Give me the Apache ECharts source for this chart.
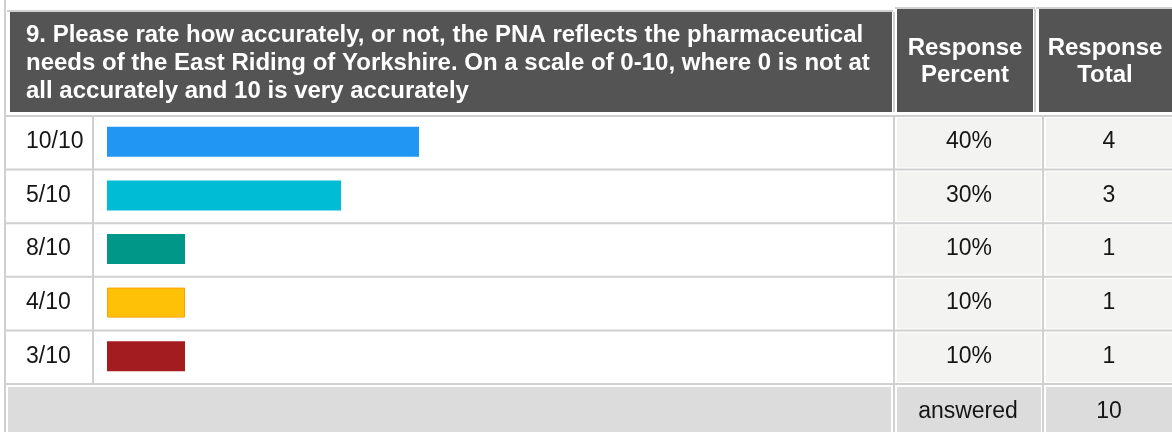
<!DOCTYPE html>
<html><head><meta charset="utf-8">
<script src="https://cdn.jsdelivr.net/npm/echarts@6/dist/echarts.min.js"></script>
<style>html,body{margin:0;padding:0;background:#fff}#c{width:1172px;height:432px}</style>
</head><body><div id="c"></div>
<script>
const categories = ['10/10', '5/10', '8/10', '4/10', '3/10'];
const percents = [40, 30, 10, 10, 10];
const totals = [4, 3, 1, 1, 1];
const barColors = ['#2196F3', '#00BCD4', '#009688', '#FFC107', '#A31C1F'];
const questionLines = [
  '9. Please rate how accurately, or not, the PNA reflects the pharmaceutical',
  'needs of the East Riding of Yorkshire. On a scale of 0-10, where 0 is not at',
  'all accurately and 10 is very accurately'
];
const headerPercent = 'Response\nPercent';
const headerTotal = 'Response\nTotal';
const answeredLabel = 'answered';
const answeredTotal = 10;

const FONT = "'Liberation Sans', Arial, sans-serif";
const TXT = '#151515';
const chart = echarts.init(document.getElementById('c'), null, {renderer: 'canvas'});

const rowTop = 117, rowH = 53.6, nRows = categories.length;
const lineC = '#d0d0d0';
const g = [];
// header boxes
g.push({type: 'rect', shape: {x: 7, y: 10, width: 886, height: 2}, style: {fill: lineC}});
g.push({type: 'rect', shape: {x: 10, y: 12, width: 882, height: 100}, style: {fill: '#545454'}});
g.push({type: 'rect', shape: {x: 895, y: 7, width: 140, height: 2}, style: {fill: lineC}});
g.push({type: 'rect', shape: {x: 897, y: 9, width: 136, height: 103}, style: {fill: '#545454'}});
g.push({type: 'rect', shape: {x: 1036, y: 7, width: 136, height: 2}, style: {fill: lineC}});
g.push({type: 'rect', shape: {x: 1039, y: 9, width: 133, height: 103}, style: {fill: '#545454'}});
g.push({type: 'rect', shape: {x: 893, y: 12, width: 2, height: 100}, style: {fill: lineC}});
g.push({type: 'rect', shape: {x: 1034, y: 9, width: 2, height: 103}, style: {fill: lineC}});
questionLines.forEach((t, i) => {
  g.push({type: 'text', x: 26, y: 35 + i * 28, style: {text: t, fill: '#fff', font: 'bold 24px ' + FONT, textAlign: 'left', textVerticalAlign: 'middle'}});
});
g.push({type: 'text', x: 965, y: 62, style: {text: headerPercent, fill: '#fff', font: 'bold 24px ' + FONT, textAlign: 'center', textVerticalAlign: 'middle', lineHeight: 27}});
g.push({type: 'text', x: 1105, y: 62, style: {text: headerTotal, fill: '#fff', font: 'bold 24px ' + FONT, textAlign: 'center', textVerticalAlign: 'middle', lineHeight: 27}});
// left border
g.push({type: 'rect', shape: {x: 4, y: 0, width: 2, height: 432}, style: {fill: lineC}});
// body
for (let i = 0; i < nRows; i++) {
  const y = rowTop + i * rowH;
  g.push({type: 'rect', shape: {x: 897, y: y + 1, width: 144, height: rowH - 4}, style: {fill: '#f3f3f2'}});
  g.push({type: 'rect', shape: {x: 1046, y: y + 1, width: 126, height: rowH - 4}, style: {fill: '#f3f3f2'}});
}
for (let i = 0; i <= nRows; i++) {
  const y = rowTop + i * rowH;
  g.push({type: 'rect', shape: {x: 6, y: y - 2, width: 1166, height: 2}, style: {fill: lineC}});
}
g.push({type: 'rect', shape: {x: 92, y: rowTop, width: 2, height: rowH * nRows - 2}, style: {fill: lineC}});
g.push({type: 'rect', shape: {x: 893, y: rowTop, width: 2, height: 432 - rowTop}, style: {fill: lineC}});
g.push({type: 'rect', shape: {x: 1042, y: rowTop, width: 2, height: 432 - rowTop}, style: {fill: lineC}});
// footer
const fy = rowTop + nRows * rowH;
g.push({type: 'rect', shape: {x: 8, y: fy + 2, width: 883, height: 432 - fy}, style: {fill: '#dcdcdc'}});
g.push({type: 'rect', shape: {x: 897, y: fy + 2, width: 144, height: 432 - fy}, style: {fill: '#dcdcdc'}});
g.push({type: 'rect', shape: {x: 1046, y: fy + 2, width: 126, height: 432 - fy}, style: {fill: '#dcdcdc'}});
g.push({type: 'text', x: 968, y: fy + 27, style: {text: answeredLabel, fill: TXT, font: '23px ' + FONT, textAlign: 'center', textVerticalAlign: 'middle'}});
g.push({type: 'text', x: 1109, y: fy + 27, style: {text: String(answeredTotal), fill: TXT, font: '23px ' + FONT, textAlign: 'center', textVerticalAlign: 'middle'}});

const labelStyle = {fontFamily: FONT, fontSize: 23, color: TXT, padding: [4, 0, 0, 0]};
chart.setOption({
  animation: false,
  graphic: {elements: g},
  grid: {left: 107, width: 780, top: 115, height: rowH * nRows, containLabel: false},
  xAxis: {type: 'value', min: 0, max: 100, show: false},
  yAxis: [
    {type: 'category', inverse: true, data: categories, position: 'left',
     axisLine: {show: false}, axisTick: {show: false}, splitLine: {show: false},
     axisLabel: Object.assign({align: 'left', margin: 81}, labelStyle)},
    {type: 'category', inverse: true, data: percents.map(v => v + '%'), position: 'right',
     axisLine: {show: false}, axisTick: {show: false}, splitLine: {show: false},
     axisLabel: Object.assign({align: 'center', margin: 82}, labelStyle)},
    {type: 'category', inverse: true, data: totals.map(String), position: 'right',
     axisLine: {show: false}, axisTick: {show: false}, splitLine: {show: false},
     axisLabel: Object.assign({align: 'center', margin: 222}, labelStyle)}
  ],
  series: [{
    type: 'bar', barWidth: 30, yAxisIndex: 0,
    data: percents.map((v, i) => ({value: v, itemStyle: {color: barColors[i], borderColor: i === 3 ? '#FFA000' : barColors[i], borderWidth: i === 3 ? 1 : 0}}))
  }]
});
</script></body></html>
